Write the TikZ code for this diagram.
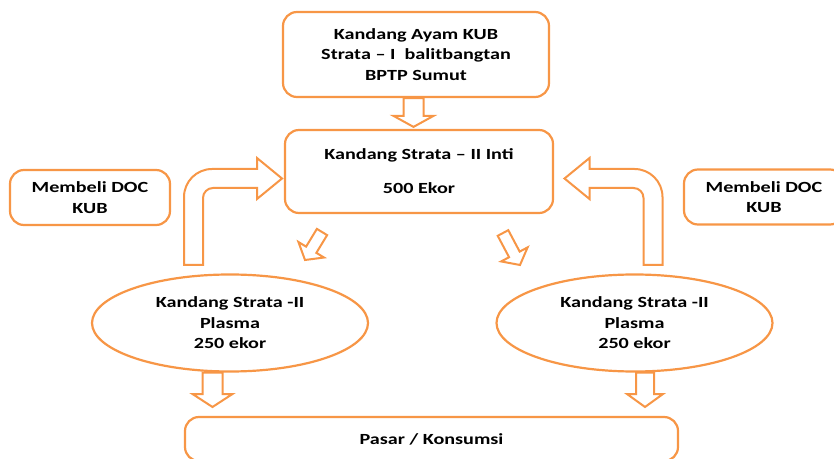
\documentclass[tikz,border=0pt]{standalone}
\usepackage{fontspec}
\setmainfont{Carlito}[FakeStretch=1.3]
\usetikzlibrary{shapes.geometric,positioning,calc}

\definecolor{kuborange}{RGB}{247,150,70}

% hollow block arrow: from, to, shaft half width, head half width, head length
\newcommand{\blockarrow}[5]{%
  \path (#1) coordinate (ba-s) (#2) coordinate (ba-e);
  \path ($(ba-e)!#5!(ba-s)$) coordinate (ba-n);
  \draw[blockline] ($(ba-s)!#3!90:(ba-e)$) -- ($(ba-n)!#3!-90:(ba-s)$)
    -- ($(ba-n)!#4!-90:(ba-s)$) -- (ba-e) -- ($(ba-n)!#4!90:(ba-s)$)
    -- ($(ba-n)!#3!90:(ba-s)$) -- ($(ba-s)!#3!-90:(ba-e)$) -- cycle;
}

\tikzset{
  blockline/.style={draw=kuborange, line width=2pt, fill=white, line join=miter},
  bent arrow/.pic={
    \draw[blockline] (-9.5,0) -- (-9.5,68) arc[start angle=180, end angle=90, radius=28]
      -- (63.5,96) -- (63.5,107) -- (88.5,86.5) -- (63.5,66) -- (63.5,77) -- (19.5,77)
      arc[start angle=90, end angle=180, radius=10] -- (9.5,0) -- cycle;
  }
}

\begin{document}
\begin{tikzpicture}[x=1pt, y=1pt,
        every node/.style={font=\fontsize{15.5}{20.5}\selectfont\bfseries, align=center},
        box/.style={draw=kuborange, line width=2.2pt, rounded corners=14pt, fill=white, inner sep=0pt},
        plasma/.style={ellipse, draw=kuborange, line width=2.2pt, fill=white, inner sep=0pt,
                       minimum width=276pt, minimum height=97pt}
    ]
    \useasboundingbox (0,0) rectangle (834,458);
    \clip (0,0) rectangle (834,458);

    % Nodes
    \node[box, minimum width=266pt, minimum height=85pt] (ayam) at (416,403.5)
        {Kandang Ayam KUB\\Strata – I\ \ balitbangtan\\BPTP Sumut};
    \node[box, minimum width=268pt, minimum height=83pt] (inti) at (419,286.5)
        {Kandang Strata – II Inti\\[13.5pt]500 Ekor};
    \node[box, minimum width=160pt, minimum height=55pt] (docL) at (90,260.5) {Membeli DOC\\KUB};
    \node[box, minimum width=160pt, minimum height=55pt] (docR) at (764,261) {Membeli DOC\\KUB};

    \node[plasma] (plasmaL) at (230,135) {Kandang Strata -II\\Plasma\\250 ekor};
    \node[plasma] (plasmaR) at (634.5,135) {Kandang Strata -II\\Plasma\\250 ekor};

    \node[box, minimum width=493pt, minimum height=44pt] (pasar) at (431.5,19) {Pasar / Konsumsi};

    % free ends
    \coordinate (diagL-s) at (322,226);
    \coordinate (diagL-e) at (305,198);
    \coordinate (diagR-s) at (503,225);
    \coordinate (diagR-e) at (520,193);
    \coordinate (downL-e) at (212.5,51);
    \coordinate (downR-e) at (645,51);
    \coordinate (bentL) at (193.5,193);
    \coordinate (bentR) at (653,193);

    % Arrows
    \blockarrow{[xshift=-2.5pt]ayam.south}{[xshift=-5.5pt,yshift=2pt]inti.north}{10pt}{20pt}{11pt}
    \blockarrow{diagL-s}{diagL-e}{6pt}{15pt}{12pt}
    \blockarrow{diagR-s}{diagR-e}{6pt}{15pt}{12pt}
    \blockarrow{[xshift=-17.5pt]plasmaL.south}{downL-e}{10pt}{20pt}{13pt}
    \blockarrow{[xshift=10.5pt]plasmaR.south}{downR-e}{9pt}{18pt}{13pt}

    \pic at (bentL) {bent arrow};
    \pic[xscale=-1] at (bentR) {bent arrow};
\end{tikzpicture}
\end{document}
